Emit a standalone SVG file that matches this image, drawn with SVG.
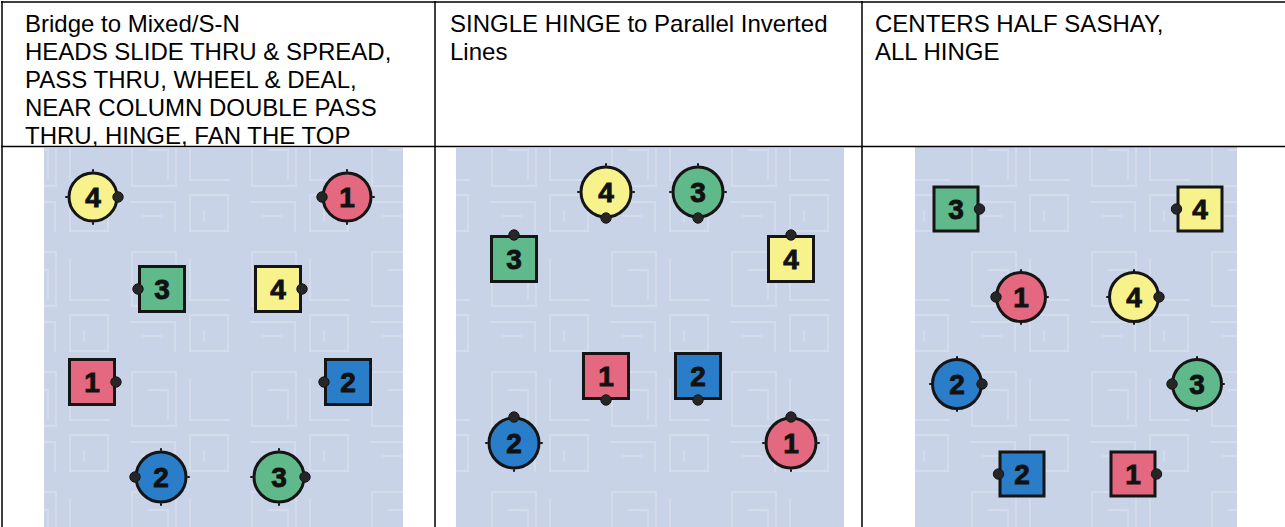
<svg xmlns="http://www.w3.org/2000/svg" width="1285" height="527" viewBox="0 0 1285 527">
<style>
  .hdr{font-family:"Liberation Sans",Arial,sans-serif;font-size:24px;fill:#000}
  .grid{stroke:#000;stroke-width:1.5;fill:none}
  .body{stroke:#151515;stroke-width:3}
  .y{fill:#f7f28c}
  .r{fill:#e4687f}
  .g{fill:#60b98a}
  .b{fill:#2a7dc8}
  .nose{fill:#262626;stroke:#151515;stroke-width:1}
  .tick{stroke:#151515;stroke-width:2;stroke-linecap:round}
  .num{font-family:"Liberation Sans",Arial,sans-serif;font-weight:bold;font-size:28px;fill:#111;stroke:#111;stroke-width:0.9;text-anchor:middle}
</style>
<defs>
  <pattern id="maze" patternUnits="userSpaceOnUse" width="120" height="120">
    <rect width="120" height="120" fill="#c9d3e7"/>
    <g fill="none" stroke="#dfe5f1" stroke-width="2" opacity="0.5">
      <rect x="12" y="12" width="44" height="54"/>
      <path d="M28 30h20v30M70 18v42h40M10 82h45v30M22 96h20M70 75h38v36h-38z M84 90v12"/>
    </g>
  </pattern>
</defs>

<rect x="0" y="0" width="1285" height="527" fill="#fff"/>

<g id="panel-backgrounds">
  <rect x="44" y="148" width="359" height="379" fill="url(#maze)"/>
  <rect x="456" y="148" width="388" height="379" fill="url(#maze)"/>
  <rect x="915" y="147" width="322" height="380" fill="url(#maze)"/>
</g>

<g id="table">
  <path class="grid" d="M1 2H1285M2 1V527M1 146.5H1285M435 1V527M862 1V527"/>
</g>

<g id="headers">
  <text class="hdr" x="25" y="32">Bridge to Mixed/S-N</text>
  <text class="hdr" x="25" y="60">HEADS SLIDE THRU &amp; SPREAD,</text>
  <text class="hdr" x="25" y="88">PASS THRU, WHEEL &amp; DEAL,</text>
  <text class="hdr" x="25" y="116">NEAR COLUMN DOUBLE PASS</text>
  <text class="hdr" x="25" y="144">THRU, HINGE, FAN THE TOP</text>
  <text class="hdr" x="450" y="32">SINGLE HINGE to Parallel Inverted</text>
  <text class="hdr" x="450" y="60">Lines</text>
  <text class="hdr" x="875" y="32">CENTERS HALF SASHAY,</text>
  <text class="hdr" x="875" y="60">ALL HINGE</text>
</g>

<g id="connectors"></g>

<!-- Panel 1 -->
<g id="p1-c4"><circle class="body y" cx="93" cy="197" r="24"/><path class="tick" d="M93 171v-1M93 223v1M67 197h-1"/><circle class="nose" cx="118" cy="197" r="5.2"/><text class="num" x="93" y="207">4</text></g>
<g id="p1-c1"><circle class="body r" cx="347" cy="197" r="24"/><path class="tick" d="M347 171v-1M347 223v1M373 197h1"/><circle class="nose" cx="322" cy="197" r="5.2"/><text class="num" x="347" y="207">1</text></g>
<g id="p1-s3"><rect class="body g" x="139.5" y="266.5" width="45" height="45"/><circle class="nose" cx="138" cy="289" r="5.2"/><text class="num" x="162" y="299">3</text></g>
<g id="p1-s4"><rect class="body y" x="255.5" y="266.5" width="45" height="45"/><circle class="nose" cx="302" cy="289" r="5.2"/><text class="num" x="278" y="299">4</text></g>
<g id="p1-s1"><rect class="body r" x="69.5" y="359.5" width="45" height="45"/><circle class="nose" cx="116" cy="382" r="5.2"/><text class="num" x="92" y="392">1</text></g>
<g id="p1-s2"><rect class="body b" x="325.5" y="359.5" width="45" height="45"/><circle class="nose" cx="324" cy="382" r="5.2"/><text class="num" x="348" y="392">2</text></g>
<g id="p1-c2"><circle class="body b" cx="161" cy="477" r="25"/><path class="tick" d="M161 450v-1M161 504v1M188 477h1"/><circle class="nose" cx="135" cy="477" r="5.2"/><text class="num" x="161" y="487">2</text></g>
<g id="p1-c3"><circle class="body g" cx="279" cy="477" r="25"/><path class="tick" d="M279 450v-1M279 504v1M252 477h-1"/><circle class="nose" cx="305" cy="477" r="5.2"/><text class="num" x="279" y="487">3</text></g>

<!-- Panel 2 -->
<g id="p2-c4"><circle class="body y" cx="606" cy="192" r="25"/><path class="tick" d="M606 165v-1M579 192h-1M633 192h1"/><circle class="nose" cx="606" cy="218" r="5.2"/><text class="num" x="606" y="202">4</text></g>
<g id="p2-c3"><circle class="body g" cx="698" cy="192" r="25"/><path class="tick" d="M698 165v-1M671 192h-1M725 192h1"/><circle class="nose" cx="698" cy="218" r="5.2"/><text class="num" x="698" y="202">3</text></g>
<g id="p2-s3"><rect class="body g" x="491.5" y="236.5" width="45" height="45"/><circle class="nose" cx="514" cy="235" r="5.2"/><text class="num" x="514" y="269">3</text></g>
<g id="p2-s4"><rect class="body y" x="768.5" y="236.5" width="45" height="45"/><circle class="nose" cx="791" cy="235" r="5.2"/><text class="num" x="791" y="269">4</text></g>
<g id="p2-s1"><rect class="body r" x="583.5" y="353.5" width="45" height="45"/><circle class="nose" cx="606" cy="400" r="5.2"/><text class="num" x="606" y="386">1</text></g>
<g id="p2-s2"><rect class="body b" x="675.5" y="353.5" width="45" height="45"/><circle class="nose" cx="698" cy="400" r="5.2"/><text class="num" x="698" y="386">2</text></g>
<g id="p2-c2"><circle class="body b" cx="514" cy="443" r="25"/><path class="tick" d="M514 470v1M487 443h-1M541 443h1"/><circle class="nose" cx="514" cy="417" r="5.2"/><text class="num" x="514" y="453">2</text></g>
<g id="p2-c1"><circle class="body r" cx="791" cy="443" r="25"/><path class="tick" d="M791 470v1M764 443h-1M818 443h1"/><circle class="nose" cx="791" cy="417" r="5.2"/><text class="num" x="791" y="453">1</text></g>

<!-- Panel 3 -->
<g id="p3-s3"><rect class="body g" x="934" y="187" width="44" height="44"/><circle class="nose" cx="979.5" cy="209" r="5.2"/><text class="num" x="956" y="219">3</text></g>
<g id="p3-s4"><rect class="body y" x="1178" y="187" width="44" height="44"/><circle class="nose" cx="1176.5" cy="209" r="5.2"/><text class="num" x="1200" y="219">4</text></g>
<g id="p3-c1"><circle class="body r" cx="1021" cy="297" r="24.5"/><path class="tick" d="M1021 271v-1M1021 323v1M1047 297h1"/><circle class="nose" cx="996" cy="297" r="5.2"/><text class="num" x="1021" y="307">1</text></g>
<g id="p3-c4"><circle class="body y" cx="1134" cy="297" r="24.5"/><path class="tick" d="M1134 271v-1M1134 323v1M1108 297h-1"/><circle class="nose" cx="1159" cy="297" r="5.2"/><text class="num" x="1134" y="307">4</text></g>
<g id="p3-c2"><circle class="body b" cx="957" cy="384" r="24.5"/><path class="tick" d="M957 358v-1M957 410v1M931 384h-1"/><circle class="nose" cx="982" cy="384" r="5.2"/><text class="num" x="957" y="394">2</text></g>
<g id="p3-c3"><circle class="body g" cx="1197" cy="384" r="24.5"/><path class="tick" d="M1197 358v-1M1197 410v1M1223 384h1"/><circle class="nose" cx="1172" cy="384" r="5.2"/><text class="num" x="1197" y="394">3</text></g>
<g id="p3-s2"><rect class="body b" x="1000" y="452" width="44" height="44"/><circle class="nose" cx="998.5" cy="474" r="5.2"/><text class="num" x="1022" y="484">2</text></g>
<g id="p3-s1"><rect class="body r" x="1111" y="452" width="44" height="44"/><circle class="nose" cx="1156.5" cy="474" r="5.2"/><text class="num" x="1133" y="484">1</text></g>
</svg>
